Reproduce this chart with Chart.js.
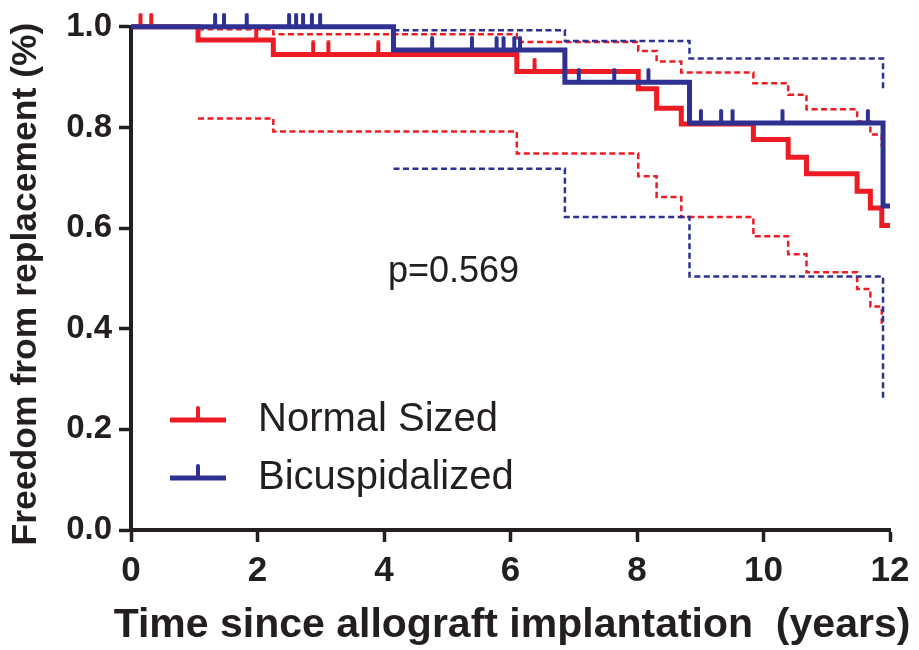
<!DOCTYPE html>
<html>
<head>
<meta charset="utf-8">
<title>Freedom from replacement</title>
<script src="https://cdn.jsdelivr.net/npm/chart.js@4.4.1/dist/chart.umd.min.js"></script>
<style>
  html, body { margin: 0; padding: 0; background: #fff; }
  #wrap { width: 919px; height: 650px; }
</style>
</head>
<body>
<div id="wrap"><canvas id="kmChart" width="919" height="650"></canvas></div>
<script>
// ---------- data (years, survival fraction) ----------
const normalTimes = [0, 1.06, 2.25, 6.10, 8.02, 8.31, 8.70, 9.84, 10.39, 10.68, 11.48, 11.69, 11.87, 12];
const normalSurv  = [1, 0.974, 0.945, 0.911, 0.877, 0.838, 0.807, 0.776, 0.741, 0.708, 0.673, 0.640, 0.605, 0.605];
const normalCiTimes = [1.06, 2.25, 6.10, 8.02, 8.31, 8.70, 9.84, 10.39, 10.68, 11.48, 11.69, 11.87];
const normalUpper = [0.995, 0.985, 0.970, 0.952, 0.931, 0.909, 0.888, 0.865, 0.836, 0.812, 0.786, 0.762];
const normalLower = [0.818, 0.792, 0.748, 0.703, 0.662, 0.622, 0.584, 0.548, 0.512, 0.479, 0.444, 0.410];
const normalCensored = [0.15, 0.32, 1.98, 2.88, 3.12, 3.91, 6.38];

const bicuspTimes = [0, 4.15, 6.86, 8.83, 11.89, 12];
const bicuspSurv  = [1, 0.954, 0.890, 0.809, 0.644, 0.644];
const bicuspCiTimes = [4.15, 6.86, 8.83, 11.89];
const bicuspUpper = [0.993, 0.972, 0.937, 0.871];
const bicuspLower = [0.718, 0.622, 0.504, 0.257];
const bicuspCensored = [1.33, 1.47, 1.83, 2.50, 2.61, 2.72, 2.86, 2.99,
                        4.76, 5.39, 5.78, 5.89, 6.06, 6.15,
                        7.08, 7.64, 8.18,
                        9.01, 9.33, 9.51, 10.30, 11.65];

const groupNames = ["Normal Sized", "Bicuspidalized"];
const pValueText = "p=0.569";
const xTitle = "Time since allograft implantation  (years)";
const yTitle = "Freedom from replacement (%)";
const xTicks = [0, 2, 4, 6, 8, 10, 12];
const yTicks = [0, 0.2, 0.4, 0.6, 0.8, 1.0];

// ---------- styling ----------
const RED = "#ed1c24";
const BLUE = "#2e3192";
const INK = "#231f20";
const FONT = 'Arial, "Liberation Sans", Helvetica, sans-serif';

// ---------- helpers ----------
const toPoints = (xs, ys) => xs.map((x, i) => ({ x: x, y: ys[i] }));

// survival level at time t from a step curve
function survivalAt(times, surv, t) {
  let s = surv[0];
  for (let i = 0; i < times.length; i++) {
    if (times[i] <= t) s = surv[i];
  }
  return s;
}

// censor tick: only the upper half of the image is inked, so it sits on the curve
function censorTick(color) {
  const c = document.createElement("canvas");
  c.width = 6;
  c.height = 28;
  const g = c.getContext("2d");
  g.strokeStyle = color;
  g.lineWidth = 4;
  g.lineCap = "round";
  g.beginPath();
  g.moveTo(3, 2);
  g.lineTo(3, 14);
  g.stroke();
  return c;
}

// horizontal run first, then the drop at the next event time
const curve = (label, pts, color) => ({
  label: label,
  data: pts,
  borderColor: color,
  borderWidth: 5,
  stepped: "before",
  pointRadius: 0,
  fill: false,
  clip: false,
  borderCapStyle: "butt",
  borderJoinStyle: "miter"
});

const band = (pts, color) => ({
  data: pts,
  borderColor: color,
  borderWidth: 2.5,
  borderDash: [6, 3.5],
  stepped: "before",
  pointRadius: 0,
  fill: false,
  clip: false
});

const censors = (times, stepT, stepS, color) => ({
  data: times.map(t => ({ x: t, y: survivalAt(stepT, stepS, t) })),
  showLine: false,
  pointStyle: censorTick(color),
  pointRadius: 6,
  clip: false
});

// ---------- axis titles, legend, p value ----------
const kmNotes = {
  id: "kmNotes",
  afterDraw(chart) {
    const ctx = chart.ctx;
    const colors = [RED, BLUE];
    ctx.save();

    ctx.fillStyle = INK;
    ctx.textAlign = "center";
    ctx.textBaseline = "middle";
    ctx.font = "bold 41px " + FONT;
    ctx.fillText(xTitle, 512, 626);

    ctx.save();
    ctx.translate(26, 284);
    ctx.rotate(-Math.PI / 2);
    ctx.font = "bold 35.5px " + FONT;
    ctx.fillText(yTitle, 0, 0);
    ctx.restore();

    groupNames.forEach((name, i) => {
      const y = 420 + i * 58;
      ctx.strokeStyle = colors[i];
      ctx.lineWidth = 5;
      ctx.beginPath();
      ctx.moveTo(170, y);
      ctx.lineTo(226, y);
      ctx.stroke();
      ctx.lineWidth = 4;
      ctx.lineCap = "round";
      ctx.beginPath();
      ctx.moveTo(198, y);
      ctx.lineTo(198, y - 12);
      ctx.stroke();
      ctx.lineCap = "butt";
      ctx.fillStyle = INK;
      ctx.font = "40px " + FONT;
      ctx.textAlign = "left";
      ctx.textBaseline = "middle";
      ctx.fillText(name, 258, y);
    });

    ctx.font = "36px " + FONT;
    ctx.fillStyle = INK;
    ctx.textAlign = "left";
    ctx.textBaseline = "middle";
    ctx.fillText(pValueText, 388, 272);
    ctx.restore();
  }
};

new Chart(document.getElementById("kmChart"), {
  type: "line",
  data: {
    datasets: [
      censors(bicuspCensored, bicuspTimes, bicuspSurv, BLUE),
      curve(groupNames[1], toPoints(bicuspTimes, bicuspSurv), BLUE),
      censors(normalCensored, normalTimes, normalSurv, RED),
      curve(groupNames[0], toPoints(normalTimes, normalSurv), RED),
      band(toPoints(bicuspCiTimes, bicuspUpper), BLUE),
      band(toPoints(bicuspCiTimes, bicuspLower), BLUE),
      band(toPoints(normalCiTimes, normalUpper), RED),
      band(toPoints(normalCiTimes, normalLower), RED)
    ]
  },
  options: {
    responsive: false,
    animation: false,
    devicePixelRatio: 1,
    layout: { padding: { top: 25, right: 29, left: 0, bottom: 0 } },
    plugins: {
      legend: { display: false },
      tooltip: { enabled: false }
    },
    scales: {
      x: {
        type: "linear",
        min: 0,
        max: 12,
        afterBuildTicks: s => { s.ticks = xTicks.map(v => ({ value: v })); },
        afterFit: s => { s.height = 120; },
        border: { display: true, color: INK, width: 4 },
        grid: { drawOnChartArea: false, drawTicks: true, tickLength: 12, tickWidth: 3.5, tickColor: INK },
        ticks: {
          color: INK,
          padding: 8,
          font: { family: FONT, size: 35, weight: "bold" },
          callback: v => String(v)
        }
      },
      y: {
        type: "linear",
        min: 0,
        max: 1,
        afterBuildTicks: s => { s.ticks = yTicks.map(v => ({ value: v })); },
        afterFit: s => { s.width = 131; },
        border: { display: true, color: INK, width: 4 },
        grid: { drawOnChartArea: false, drawTicks: true, tickLength: 12, tickWidth: 3.5, tickColor: INK },
        ticks: {
          color: INK,
          padding: 7,
          font: { family: FONT, size: 33, weight: "bold" },
          callback: v => Number(v).toFixed(1)
        }
      }
    }
  },
  plugins: [kmNotes]
});
</script>
</body>
</html>
